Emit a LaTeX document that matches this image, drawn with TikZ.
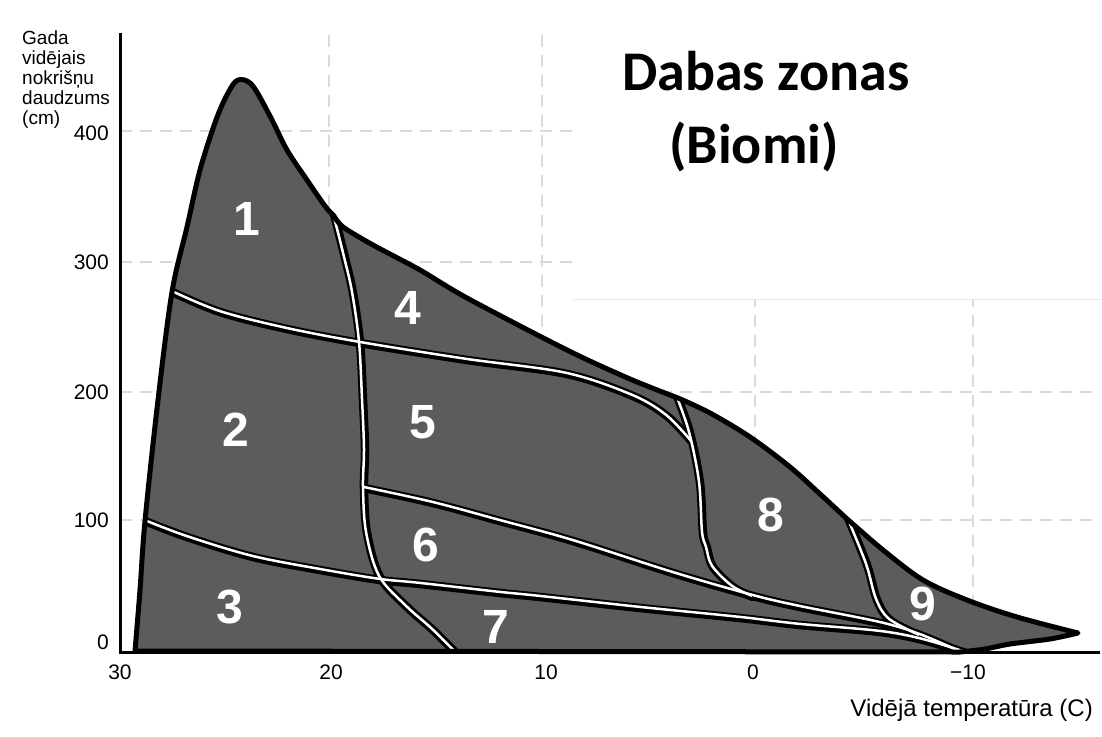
\documentclass[tikz,border=0pt]{standalone}
\usepackage{fontspec}
\setmainfont{Liberation Sans}
\newfontfamily\titlefont{Carlito}
\definecolor{zonefill}{RGB}{92,92,92}
\definecolor{gridc}{RGB}{218,218,218}
\newcommand\zonelines[1]{%
  % A: 1|2 and 4|5
  \draw[#1] plot[smooth,tension=.55] coordinates {(168,290) (220,312) (287,329) (360,343) (467,360) (567,374) (633,396) (667,416) (692,442)};
  % B: 1|4, 2|5, 3|7
  \draw[#1] plot[smooth,tension=.55] coordinates {(334,214) (345,258) (353,293) (360,343) (363,400) (365,450) (364,488) (367,533) (380,577) (407,607) (433,630) (459,656)};
  % C: 5|6
  \draw[#1] plot[smooth,tension=.55] coordinates {(364,488) (433,503) (500,521) (573,541) (673,573) (753,596) (800,607) (880,623) (920,635) (960,652)};
  % D: 2|3, 6|7
  \draw[#1] plot[smooth,tension=.55] coordinates {(140,519) (187,537) (253,557) (320,570) (380,580) (420,584) (500,593) (540,597) (640,608) (740,618) (800,625) (880,632) (923,640) (966,653)};
  % E: 5|8
  \draw[#1] plot[smooth,tension=.55] coordinates {(677,396) (690,433) (700,483) (703,533) (707,548) (713,567) (733,587) (753,597)};
  % F: 8|9
  \draw[#1] plot[smooth,tension=.55] coordinates {(848,518) (867,565) (877,600) (890,620) (920,636)};
}
\begin{document}
\begin{tikzpicture}[x=1pt,y=-1pt,
  gridline/.style={gridc, line width=1.5pt, dash pattern=on 12pt off 8pt},
  blackline/.style={black, line width=8.5pt, line cap=round},
  whiteline/.style={white, line width=2.5pt, shift={(-1,-1.2)}},
  zonelabel/.style={text=white, font=\fontsize{48}{48}\selectfont\bfseries, inner sep=0pt},
  ticklabel/.style={font=\fontsize{21}{21}\selectfont, inner sep=0pt},
]
\useasboundingbox[fill=white] (0,0) rectangle (1102,736);

% grid
\foreach \gx in {329,542,755,973} \draw[gridline] (\gx,35) -- (\gx,652);
\foreach \gy in {131,262,392,520} \draw[gridline] (120,\gy) -- (1100,\gy);

% title box
\fill[white] (573,35) rectangle (1102,299);
\draw[gray!18, line width=1pt] (573,299) -- (1100,299);
\node[anchor=base west, inner sep=0pt, font=\titlefont\bfseries\fontsize{56}{56}\selectfont] (t1) at (622,90) {Dabas zonas};
\node[anchor=base west, inner sep=0pt, font=\titlefont\bfseries\fontsize{56}{56}\selectfont] (t2) at (669,163) {(Biomi)};

% shape
\path[fill=zonefill, save path=\outerp]
  (135,651) -- plot[smooth,tension=.55] coordinates {(135,651) (140,590) (145,521) (158,400) (172,292) (187,227) (200,170) (216,120) (228,93) (238,80) (252,85) (270,116) (287,150) (307,180) (325,206) (334,216)}
  -- plot[smooth,tension=.5] coordinates {(334,216) (343,227) (373,245) (420,270) (467,298) (567,350) (630,379) (678,398)}
  -- plot[smooth,tension=.55] coordinates {(678,398) (710,413) (750,437) (790,467) (820,494) (846,518)}
  -- plot[smooth,tension=.55] coordinates {(846,518) (883,550) (923,580) (967,600) (1017,617) (1078,633)}
  -- plot[smooth,tension=.5] coordinates {(1078,633) (1050,639) (1010,644) (985,649) (960,652)}
  -- cycle;
\begin{scope}
  \clip[use path=\outerp];
  \zonelines{blackline}
  \zonelines{whiteline}
\end{scope}
\draw[black, line width=5pt, line join=round, use path=\outerp];

% axes
\draw[black, line width=3pt] (120,33) -- (120,652) -- (1100,652);

% zone labels
\node[zonelabel] (z1) at (247,219) {1};
\node[zonelabel] (z2) at (236,430) {2};
\node[zonelabel] (z3) at (230,607) {3};
\node[zonelabel] (z4) at (408,308) {4};
\node[zonelabel] (z5) at (423,422) {5};
\node[zonelabel] (z6) at (426,545) {6};
\node[zonelabel] (z7) at (496,627) {7};
\node[zonelabel] (z8) at (771,515) {8};
\node[zonelabel] (z9) at (923,604) {9};

% y ticks
\node[ticklabel, anchor=east] (y400) at (109,133) {400};
\node[ticklabel, anchor=east] (y300) at (109,262) {300};
\node[ticklabel, anchor=east] (y200) at (109,392) {200};
\node[ticklabel, anchor=east] (y100) at (109,520) {100};
\node[ticklabel, anchor=east] (y0) at (109,642) {0};
% x ticks
\node[ticklabel] (x30) at (120,672) {30};
\node[ticklabel] (x20) at (331,672) {20};
\node[ticklabel] (x10) at (546,672) {10};
\node[ticklabel] (x0) at (753,672) {0};
\node[ticklabel] (xm10) at (968,672) {−10};

% axis titles
\node[anchor=north west, inner sep=0pt, align=left, font=\fontsize{19}{20}\selectfont] (ylab) at (22,31) {Gada\\vidējais\\nokrišņu\\daudzums\\(cm)};
\node[anchor=base east, inner sep=0pt, font=\fontsize{24}{24}\selectfont] (xlab) at (1093,716) {Vidējā temperatūra (C)};
\end{tikzpicture}
\end{document}
